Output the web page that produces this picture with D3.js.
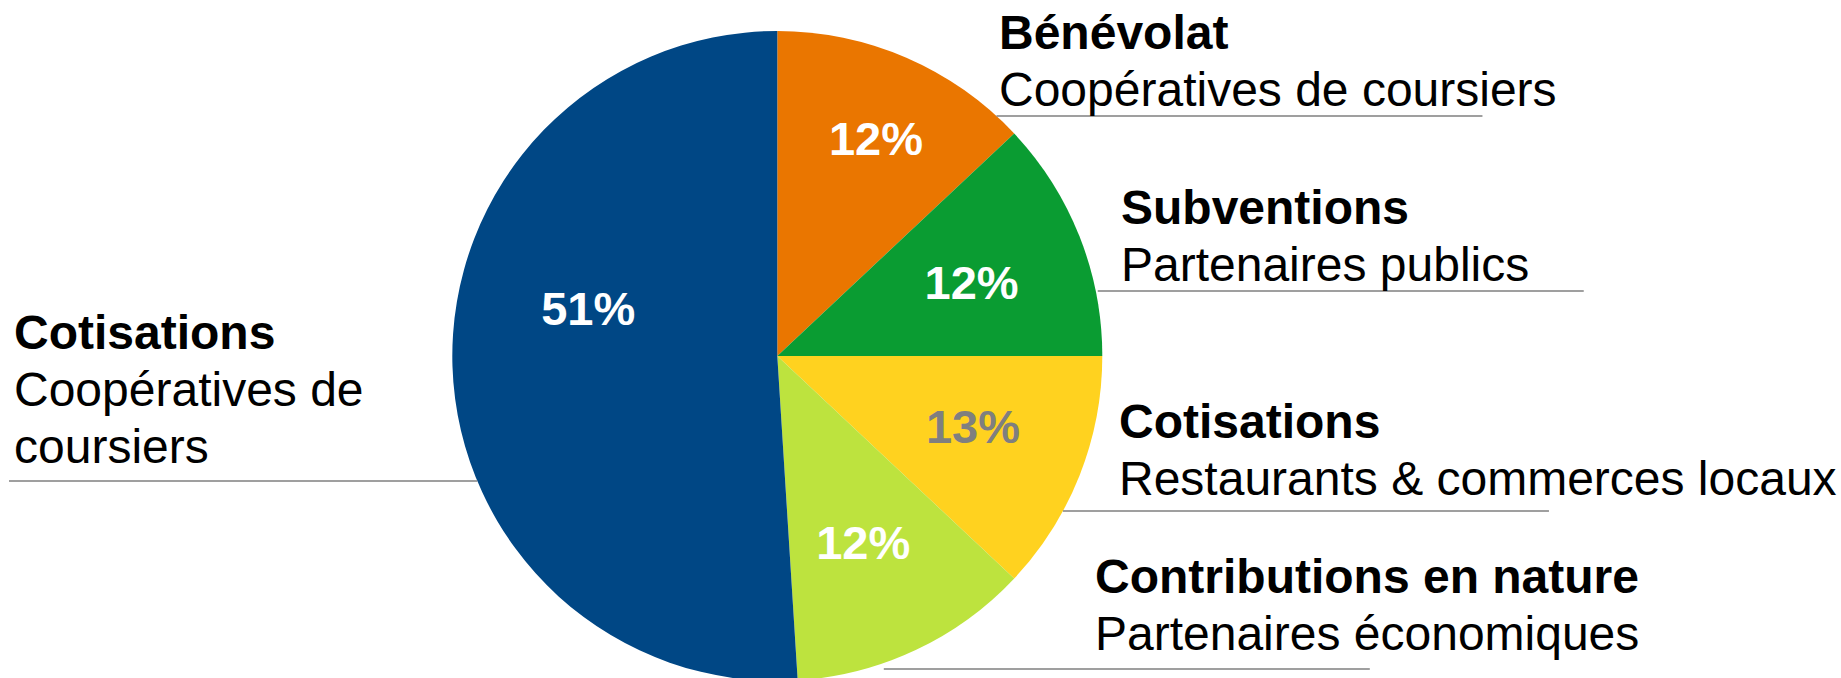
<!DOCTYPE html>
<html lang="fr">
<head>
    <meta charset="UTF-8">
    <script src="https://d3js.org/d3.v7.min.js"></script>
    <style>
        body {
            margin: 0;
            background: #fff;
            font-family: "Liberation Sans", Arial, sans-serif;
        }
        .pct {
            font-size: 47px;
            font-weight: bold;
        }
        .cat {
            font-size: 48px;
            font-weight: bold;
            fill: #000;
        }
        .src {
            font-size: 48px;
            fill: #000;
        }
        .leader {
            stroke: #7f7f7f;
            stroke-width: 1.6px;
        }
    </style>
</head>
<body>
    <svg id="chart"></svg>

    <script>
        // données (sens horaire depuis midi)
        const categories = ["Bénévolat", "Subventions", "Cotisations", "Contributions en nature", "Cotisations"];
        const sources = [
            ["Coopératives de coursiers"],
            ["Partenaires publics"],
            ["Restaurants & commerces locaux"],
            ["Partenaires économiques"],
            ["Coopératives de", "coursiers"]
        ];
        const shares = [13, 12, 12, 12, 51];
        const shareLabels = ["12%", "12%", "13%", "12%", "51%"];
        const colors = ["#ea7600", "#0a9c32", "#ffd21f", "#bde33e", "#004785"];
        const labelColors = ["#fff", "#fff", "#7f7f7f", "#fff", "#fff"];

        const width = 1841, height = 678;
        const cx = 777.3, cy = 356, radius = 325;

        const svg = d3.select("#chart")
            .attr("width", width)
            .attr("height", height);

        const data = shares.map((v, i) => ({
            cat: categories[i],
            src: sources[i],
            value: v,
            label: shareLabels[i],
            color: colors[i],
            labelColor: labelColors[i]
        }));

        const pie = d3.pie().sort(null).value(d => d.value);
        const arc = d3.arc().innerRadius(0).outerRadius(radius);
        const arcs = pie(data);

        const g = svg.append("g").attr("transform", `translate(${cx},${cy})`);

        g.selectAll("path.slice")
            .data(arcs)
            .enter()
            .append("path")
            .attr("class", "slice")
            .attr("d", arc)
            .attr("fill", d => d.data.color);

        // position des pourcentages : rayon relatif + décalage d'angle (degrés)
        const labelPlace = [
            {k: 0.735, da: 1},
            {k: 0.64, da: 0.7},
            {k: 0.64, da: -1.8},
            {k: 0.63, da: 0.4},
            {k: 0.6, da: 16}
        ];

        g.selectAll("text.pct")
            .data(arcs)
            .enter()
            .append("text")
            .attr("class", "pct")
            .attr("text-anchor", "middle")
            .attr("dy", "0.36em")
            .attr("x", (d, i) => {
                const a = (d.startAngle + d.endAngle) / 2 + labelPlace[i].da * Math.PI / 180;
                return Math.sin(a) * radius * labelPlace[i].k;
            })
            .attr("y", (d, i) => {
                const a = (d.startAngle + d.endAngle) / 2 + labelPlace[i].da * Math.PI / 180;
                return -Math.cos(a) * radius * labelPlace[i].k;
            })
            .attr("fill", d => d.data.labelColor)
            .text(d => d.data.label);

        // étiquettes avec trait de rappel partant du bord du camembert
        const callouts = [
            {side: "right", lineY: 116, textX: 999, top: 49, gap: 0},
            {side: "right", lineY: 291, textX: 1121, top: 224, gap: 2},
            {side: "right", lineY: 511, textX: 1119, top: 438, gap: 0},
            {side: "right", lineY: 669, textX: 1095, top: 593, gap: 19},
            {side: "left", lineY: 481, textX: 14, top: 349, gap: 0}
        ];
        const lineLen = 486, lineH = 57;

        function edgeX(c) {
            const dy = c.lineY - cy;
            const edge = Math.sqrt(Math.max(0, radius * radius - dy * dy)) + c.gap;
            return c.side === "right" ? cx + edge : cx - edge;
        }

        const cg = svg.selectAll("g.callout")
            .data(data)
            .enter()
            .append("g")
            .attr("class", "callout");

        cg.append("line")
            .attr("class", "leader")
            .attr("y1", (d, i) => callouts[i].lineY)
            .attr("y2", (d, i) => callouts[i].lineY)
            .attr("x1", (d, i) => edgeX(callouts[i]))
            .attr("x2", (d, i) => {
                const c = callouts[i];
                return c.side === "right" ? edgeX(c) + lineLen : Math.max(9, edgeX(c) - lineLen);
            });

        cg.append("text")
            .attr("class", "cat")
            .attr("x", (d, i) => callouts[i].textX)
            .attr("y", (d, i) => callouts[i].top)
            .text(d => d.cat);

        cg.each(function (d, i) {
            d3.select(this).selectAll("text.src")
                .data(d.src)
                .enter()
                .append("text")
                .attr("class", "src")
                .attr("x", callouts[i].textX)
                .attr("y", (s, j) => callouts[i].top + lineH * (j + 1))
                .text(s => s);
        });
    </script>
</body>
</html>
